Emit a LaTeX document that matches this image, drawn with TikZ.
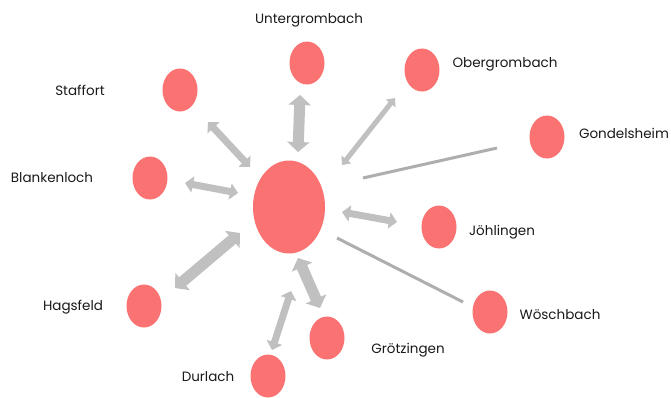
\documentclass[tikz,border=0pt]{standalone}
\usepackage{fontspec}
\setmainfont{Poppins}
\usetikzlibrary{arrows.meta,shapes.geometric}
\definecolor{dotred}{HTML}{FA7272}
\definecolor{arrgray}{HTML}{C0C0C0}
\definecolor{linegray}{HTML}{AEAEAE}
\definecolor{txt}{HTML}{1A1A1A}
\begin{document}
\begin{tikzpicture}[x=1pt,y=-1pt,
  dot/.style={ellipse,fill=dotred,draw=none,minimum width=35pt,minimum height=43pt,inner sep=0pt},
  hub/.style={ellipse,fill=dotred,draw=none,minimum width=72pt,minimum height=93pt,inner sep=0pt},
  lbl/.style={font=\fontsize{13.5}{15}\selectfont,text=txt,inner sep=0pt},
  bigarr/.style={draw=arrgray,line width=11pt,{Triangle[length=10pt,width=22pt]}-{Triangle[length=10pt,width=22pt]}},
  midarr/.style={draw=arrgray,line width=7pt,{Triangle[length=8pt,width=16pt]}-{Triangle[length=8pt,width=16pt]}},
  smlarr/.style={draw=arrgray,line width=5pt,{Triangle[length=7pt,width=12pt]}-{Triangle[length=7pt,width=12pt]}},
  thinline/.style={draw=linegray,line width=3pt}]
\useasboundingbox (0,0) rectangle (671,397);
\fill[white] (0,0) rectangle (671,397);
% nodes
\node[hub] (hub) at (289,207) {};
\node[dot] (staf) at (180,90) {};
\node[dot] (unter) at (307,63) {};
\node[dot] (ober) at (422,70) {};
\node[dot] (gond) at (547,137) {};
\node[dot] (joeh) at (439,227) {};
\node[dot] (woesch) at (490,312) {};
\node[dot] (groetz) at (327,338) {};
\node[dot] (durl) at (268,376) {};
\node[dot] (blank) at (150,178) {};
\node[dot] (hags) at (144,306) {};
% labels
\node[lbl] (lstaf) at (80,90) {Staffort};
\node[lbl] (lunter) at (309,20) {Untergrombach};
\node[lbl] (lober) at (505,64) {Obergrombach};
\node[lbl] (lgond) at (624,133) {Gondelsheim};
\node[lbl] (ljoeh) at (502,232) {Jöhlingen};
\node[lbl] (lwoesch) at (560,315) {Wöschbach};
\node[lbl] (lgroetz) at (408,350) {Grötzingen};
\node[lbl] (ldurl) at (208,377) {Durlach};
\node[lbl] (lblank) at (52,178) {Blankenloch};
\node[lbl] (lhags) at (73,307) {Hagsfeld};
% connector end points
\coordinate (s1) at (208,122); \coordinate (s2) at (250,167);
\coordinate (u1) at (300,95);  \coordinate (u2) at (298,152);
\coordinate (o1) at (395,98);  \coordinate (o2) at (342,165);
\coordinate (g1) at (497,148); \coordinate (g2) at (363,178);
\coordinate (b1) at (185,183); \coordinate (b2) at (238,193);
\coordinate (h1) at (175,288); \coordinate (h2) at (240,233);
\coordinate (j1) at (342,212); \coordinate (j2) at (397,222);
\coordinate (w1) at (463,302); \coordinate (w2) at (337,238);
\coordinate (gr1) at (320,308); \coordinate (gr2) at (298,258);
\coordinate (d1) at (272,350); \coordinate (d2) at (291,291);
% connectors
\draw[midarr] (s1) -- (s2);
\draw[bigarr] (u1) -- (u2);
\draw[smlarr] (o1) -- (o2);
\draw[thinline] (g1) -- (g2);
\draw[midarr] (b1) -- (b2);
\draw[bigarr] (h1) -- (h2);
\draw[midarr] (j1) -- (j2);
\draw[thinline] (w1) -- (w2);
\draw[bigarr] (gr1) -- (gr2);
\draw[midarr] (d1) -- (d2);
\end{tikzpicture}
\end{document}
